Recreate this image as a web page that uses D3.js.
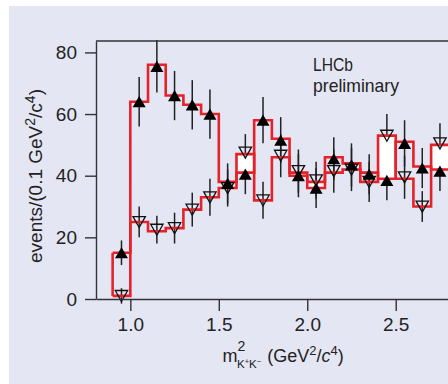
<!DOCTYPE html>
<html>
<head>
<meta charset="utf-8">
<script src="https://cdn.jsdelivr.net/npm/d3@7"></script>
<style>
	body { margin: 0; background: #fff; }
	svg { display: block; }
	text { font-family: 'Liberation Sans', Arial, sans-serif; fill: #222; }
	.axis path, .axis line { stroke: #333; stroke-width: 1.4; }
	.axis text { font-size: 19px; font-family: 'Liberation Sans', Arial, sans-serif; fill: #222; }
</style>
</head>
<body>
<svg id="chart" width="448" height="384"></svg>
<script>
// lower edge of each 0.1 GeV^2 bin
var binLow = [0.9, 1.0, 1.1, 1.2, 1.3, 1.4, 1.5, 1.6, 1.7, 1.8, 1.9, 2.0, 2.1, 2.2, 2.3, 2.4, 2.5, 2.6, 2.7];

// red histograms
var fitFilled = [15, 64, 76, 66, 63, 60, 38, 41, 58, 52, 41, 36, 46, 44, 41, 39, 51, 43, 42];
var fitOpen   = [1, 25, 22, 23, 29, 33, 36, 47, 32, 46, 40, 38, 41, 42, 38, 53, 39, 30, 50];

// filled (up) triangles with errors
var dataFilled = [15, 64, 75.5, 66, 63, 60, 37.5, 40.5, 58, 51.5, 40, 36, 45.5, 43.5, 40.5, 38.5, 50.5, 42.5, 41.5];
var errFilled  = [4, 8, 8.5, 8, 8, 8, 6.5, 6.5, 7.5, 7.5, 7, 6.5, 7, 7, 6.5, 6.5, 7.5, 6.5, 6.5];

// open (down) triangles with errors
var dataOpen = [1, 25, 22.5, 23, 29, 33, 36, 47.5, 32, 46.5, 41.5, 38.5, 41.5, 42, 38, 53, 39.5, 30, 50.5];
var errOpen  = [2.5, 5, 4.5, 5, 5.5, 6, 6, 6, 6, 7, 7, 6, 7, 7, 6.5, 7, 7, 5, 6.5];

var xTicks = [1.0, 1.5, 2.0, 2.5];
var yTicks = [0, 20, 40, 60, 80];

var svg = d3.select("#chart");

svg.append("rect")
	.attr("x", 9).attr("y", 6)
	.attr("width", 439).attr("height", 378)
	.attr("fill", "#e4e6f4");

var x = d3.scaleLinear().domain([0.806, 2.8]).range([96, 448.8]),
	y = d3.scaleLinear().domain([0, 83.7]).range([299, 41]);

var red = "#e52229";

// error bars
function errBars(vals, errs) {
	svg.append("g").selectAll("line")
		.data(vals)
		.enter().append("line")
		.attr("x1", function(d, i) { return x(binLow[i] + 0.05); })
		.attr("x2", function(d, i) { return x(binLow[i] + 0.05); })
		.attr("y1", function(d, i) { return y(d + errs[i]); })
		.attr("y2", function(d, i) { return y(d - errs[i]); })
		.attr("stroke", "#222")
		.attr("stroke-width", 1.5);
}
errBars(dataFilled, errFilled);
errBars(dataOpen, errOpen);

// white band where the open histogram sits above the filled one
svg.append("g").selectAll("rect")
	.data(binLow)
	.enter().filter(function(d, i) { return fitOpen[i] > fitFilled[i]; })
	.append("rect")
	.attr("x", function(d) { return x(d); })
	.attr("width", function(d) { return x(d + 0.1) - x(d); })
	.attr("y", function(d) { var i = binLow.indexOf(d); return y(fitOpen[i]); })
	.attr("height", function(d) { var i = binLow.indexOf(d); return y(fitFilled[i]) - y(fitOpen[i]); })
	.attr("fill", "#fff");

// red step histograms
var step = d3.line()
	.x(function(d) { return x(d[0]); })
	.y(function(d) { return y(d[1]); })
	.curve(d3.curveStepAfter);

[fitFilled, fitOpen].forEach(function(fit) {
	var pts = binLow.map(function(b, i) { return [b, fit[i]]; });
	pts.push([binLow[binLow.length - 1] + 0.1, fit[fit.length - 1]]);
	svg.append("path")
		.attr("d", step(pts))
		.attr("fill", "none")
		.attr("stroke", red)
		.attr("stroke-width", 2.6);
});
svg.append("line")
	.attr("x1", x(binLow[0])).attr("x2", x(binLow[0]))
	.attr("y1", y(fitOpen[0])).attr("y2", y(fitFilled[0]))
	.attr("stroke", red)
	.attr("stroke-width", 2.6);

// markers
var upTri = "M0,-5.6L6.5,5.6L-6.5,5.6Z",
	downTri = "M-6.2,-5.4L6.2,-5.4L0,5.6Z";

svg.append("g").selectAll("path")
	.data(dataOpen)
	.enter().append("path")
	.attr("d", downTri)
	.attr("transform", function(d, i) { return "translate(" + x(binLow[i] + 0.05) + "," + y(d) + ")"; })
	.attr("fill", "none")
	.attr("stroke", "#111")
	.attr("stroke-width", 1.3);

svg.append("g").selectAll("path")
	.data(dataFilled)
	.enter().append("path")
	.attr("d", upTri)
	.attr("transform", function(d, i) { return "translate(" + x(binLow[i] + 0.05) + "," + y(d) + ")"; })
	.attr("fill", "#000");

// axes + frame
svg.append("g")
	.attr("class", "axis")
	.attr("transform", "translate(96,0)")
	.call(d3.axisLeft(y).tickValues(yTicks).tickSize(11).tickSizeOuter(0).tickPadding(8));

svg.append("g")
	.attr("class", "axis")
	.attr("transform", "translate(0,299)")
	.call(d3.axisBottom(x).tickValues(xTicks).tickFormat(d3.format(".1f")).tickSize(12).tickSizeOuter(0).tickPadding(7));

svg.append("line")
	.attr("x1", 96).attr("x2", 448)
	.attr("y1", y(83.7)).attr("y2", y(83.7))
	.attr("stroke", "#333")
	.attr("stroke-width", 1.4);

// annotation
svg.append("text")
	.attr("x", 313).attr("y", 70.5)
	.attr("font-size", 19)
	.attr("textLength", 40).attr("lengthAdjust", "spacingAndGlyphs")
	.text("LHCb");
svg.append("text")
	.attr("x", 313).attr("y", 92)
	.attr("font-size", 19)
	.attr("textLength", 86).attr("lengthAdjust", "spacingAndGlyphs")
	.text("preliminary");

// y title
var yt = svg.append("text")
	.attr("transform", "translate(42,176) rotate(-90)")
	.attr("text-anchor", "middle")
	.attr("font-size", 19);
yt.append("tspan").text("events/(0.1 GeV");
yt.append("tspan").attr("font-size", 14).attr("dy", -7).text("2");
yt.append("tspan").attr("dy", 7).text("/c");
yt.append("tspan").attr("font-size", 14).attr("dy", -7).text("4");
yt.append("tspan").attr("dy", 7).text(")");

// x title
svg.append("text").attr("x", 222.5).attr("y", 361.5).attr("font-size", 18).text("m");
svg.append("text").attr("x", 237.5).attr("y", 350.5).attr("font-size", 14).text("2");
var sub = svg.append("text").attr("x", 237).attr("y", 367.5).attr("font-size", 11.5);
sub.append("tspan").text("K");
sub.append("tspan").attr("font-size", 7.5).attr("dy", -4).text("+");
sub.append("tspan").attr("dy", 4).text("K");
sub.append("tspan").attr("font-size", 7.5).attr("dy", -4).text("\u2212");

var xt = svg.append("text").attr("x", 267.3).attr("y", 361.5).attr("font-size", 18);
xt.append("tspan").text("(GeV");
xt.append("tspan").attr("font-size", 13).attr("dy", -7).text("2");
xt.append("tspan").attr("dy", 7).text("/");
xt.append("tspan").attr("font-style", "italic").text("c");
xt.append("tspan").attr("font-size", 13).attr("dy", -7).text("4");
xt.append("tspan").attr("dy", 7).text(")");
</script>
</body>
</html>
